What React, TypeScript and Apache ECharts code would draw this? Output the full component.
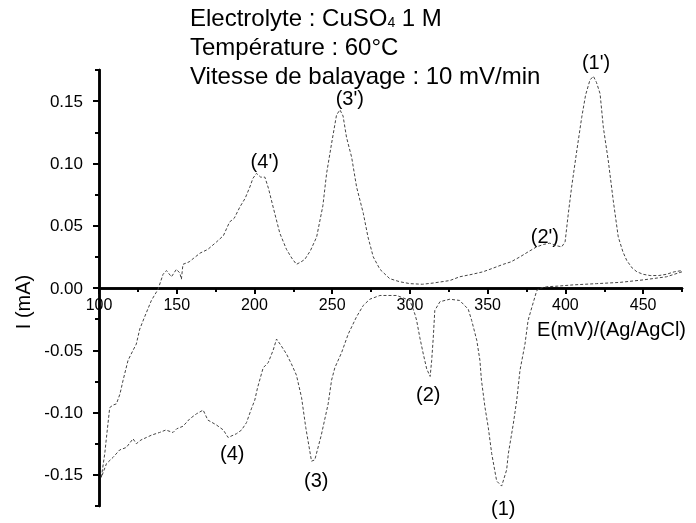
import React, { useEffect, useRef } from "react";
import * as echarts from "echarts";

// Forward (anodic) scan: potential E (mV vs Ag/AgCl) and current I (mA)
const anodicE = [101.5, 103.7, 104.8, 106.9, 109, 111.2, 113.5, 115.5, 118.7, 121.9, 124, 126.2, 129.4, 133.7, 138, 141.2, 143.4, 146.6, 149.8, 152, 153, 154, 158, 161, 165, 170, 175.6, 180, 184, 187, 190.6, 194, 197, 199, 201.3, 204, 206.7, 209, 212, 216.3, 220.6, 224, 227, 230, 232.4, 236, 240, 244, 246.4, 249.6, 252.8, 255, 257, 259.2, 262.5, 265.7, 270, 273, 276.4, 280.7, 287, 293.5, 300, 308, 315, 325.7, 332, 340, 347, 353.6, 360, 365, 370.8, 376, 381.5, 386, 390, 394, 397.6, 399.8, 401.9, 404, 407.3, 410.5, 413, 415.8, 418, 420, 422.3, 424.4, 427.6, 430.8, 434, 437, 439.5, 443, 446, 450, 454.5, 460, 465, 470, 475];
const anodicI = [-0.152, -0.133, -0.12, -0.096, -0.094, -0.093, -0.085, -0.074, -0.058, -0.05, -0.045, -0.033, -0.023, -0.01, -0.001, 0.011, 0.014, 0.009, 0.015, 0.012, 0.007, 0.019, 0.021, 0.024, 0.028, 0.031, 0.037, 0.042, 0.053, 0.056, 0.065, 0.072, 0.081, 0.088, 0.092, 0.089, 0.089, 0.08, 0.065, 0.044, 0.031, 0.024, 0.019, 0.021, 0.023, 0.03, 0.041, 0.066, 0.092, 0.116, 0.139, 0.143, 0.138, 0.121, 0.105, 0.081, 0.06, 0.041, 0.025, 0.015, 0.0075, 0.005, 0.0035, 0.003, 0.004, 0.006, 0.009, 0.011, 0.013, 0.016, 0.019, 0.021, 0.025, 0.029, 0.033, 0.035, 0.036, 0.034, 0.033, 0.037, 0.06, 0.081, 0.11, 0.137, 0.155, 0.167, 0.17, 0.165, 0.156, 0.129, 0.102, 0.07, 0.041, 0.029, 0.022, 0.016, 0.013, 0.011, 0.01, 0.01, 0.011, 0.013, 0.014];

// Reverse (cathodic) scan
const cathodicE = [475, 465, 450, 435, 420, 405, 395, 388, 384, 381.6, 378.3, 376, 374, 370.8, 368.7, 366.5, 363.3, 362.2, 359, 355.8, 352.6, 350.4, 348.3, 346, 345, 343, 339.7, 337.5, 332, 325.7, 319.3, 316, 315, 314, 313, 310.8, 308.6, 306.4, 304.3, 303.2, 300, 291.4, 280.7, 274.2, 270, 265.7, 260.3, 256, 251.7, 249.6, 247.4, 243, 238.8, 236.7, 233, 230.3, 227, 223.8, 220.6, 217, 214.2, 212, 208.8, 205.6, 202, 200.2, 198, 194.9, 191.7, 188.4, 183, 180, 175.6, 170, 167, 162.7, 158.4, 154, 150, 147.6, 143, 138.9, 134, 130.5, 127, 124, 121.9, 117.6, 113.3, 109, 104.8, 101.5];
const cathodicI = [0.013, 0.009, 0.0065, 0.0045, 0.0035, 0.0025, 0.0015, 0.001, 0, -0.002, -0.016, -0.026, -0.045, -0.066, -0.09, -0.109, -0.133, -0.146, -0.159, -0.155, -0.133, -0.112, -0.096, -0.074, -0.058, -0.042, -0.026, -0.017, -0.01, -0.009, -0.011, -0.018, -0.04, -0.058, -0.071, -0.065, -0.053, -0.04, -0.026, -0.021, -0.01, -0.006, -0.006, -0.009, -0.014, -0.023, -0.037, -0.052, -0.064, -0.074, -0.093, -0.118, -0.138, -0.139, -0.112, -0.088, -0.07, -0.061, -0.053, -0.046, -0.041, -0.05, -0.06, -0.064, -0.08, -0.09, -0.097, -0.108, -0.114, -0.117, -0.12, -0.114, -0.11, -0.106, -0.098, -0.101, -0.105, -0.111, -0.113, -0.116, -0.114, -0.116, -0.118, -0.12, -0.122, -0.125, -0.121, -0.128, -0.13, -0.136, -0.141, -0.152];

// Peak annotations
const peakLabels = ["(1')", "(2')", "(3')", "(4')", "(1)", "(2)", "(3)", "(4)"];
const peakE = [419.7, 386.8, 261.3, 206.6, 360, 311.8, 239.7, 185.7];
const peakI = [0.1816, 0.042, 0.1527, 0.102, -0.177, -0.085, -0.154, -0.1326];

// Ticks
const xMajorTicks = [100, 150, 200, 250, 300, 350, 400, 450];
const xMinorTicks = [125, 175, 225, 275, 325, 375, 425, 475];
const yMajorTicks = [-0.15, -0.1, -0.05, 0, 0.05, 0.1, 0.15];
const yMinorTicks = [-0.175, -0.125, -0.075, -0.025, 0.025, 0.075, 0.125, 0.175];

// Texts
const titleLines = ["Electrolyte : CuSO{sub|4} 1 M", "Température : 60°C", "Vitesse de balayage : 10 mV/min"];
const xName = "E(mV)/(Ag/AgCl)";
const yName = "I (mA)";

const FONT = '"Liberation Sans", Arial, Helvetica, sans-serif';

export default function App() {
  const ref = useRef<HTMLDivElement>(null);
  useEffect(() => {
    if (!ref.current) return;
    const chart = echarts.init(ref.current, undefined, { renderer: "svg" });
    const axisLine = { lineStyle: { color: "#000", width: 2.5 } };
    const tickStyle = { color: "#000", width: 2 };
    const curveStyle = { color: "#444", width: 1, type: [3, 2] as any };
    // grid spans y 70..506 (height 436); the x axis sits on I = 0, halfway up
    const xOffset = -218;
    const option: any = {
      animation: false,
      grid: { left: 99, right: 14, top: 70, bottom: 17, containLabel: false },
      xAxis: [
        {
          type: "value", min: 100, max: 475, position: "bottom", offset: xOffset,
          axisLine: { ...axisLine, onZero: false },
          axisTick: { show: true, customValues: xMajorTicks, length: 6, lineStyle: tickStyle },
          axisLabel: { customValues: xMajorTicks, fontSize: 16, color: "#000", fontFamily: FONT, margin: 8, formatter: (v: number) => String(v) },
          splitLine: { show: false },
        },
        {
          type: "value", min: 100, max: 475, position: "bottom", offset: xOffset,
          axisLine: { ...axisLine, onZero: false },
          axisTick: { show: true, customValues: xMinorTicks, length: 4, lineStyle: tickStyle },
          axisLabel: { show: false },
          splitLine: { show: false },
        },
      ],
      yAxis: [
        {
          type: "value", min: -0.175, max: 0.175, position: "left",
          axisLine: { ...axisLine, onZero: false },
          axisTick: { show: true, customValues: yMajorTicks, length: 6, lineStyle: tickStyle },
          axisLabel: { customValues: yMajorTicks, fontSize: 17, color: "#000", fontFamily: FONT, margin: 16, formatter: (v: number) => v.toFixed(2) },
          splitLine: { show: false },
        },
        {
          type: "value", min: -0.175, max: 0.175, position: "left",
          axisLine: { ...axisLine, onZero: false },
          axisTick: { show: true, customValues: yMinorTicks, length: 4, lineStyle: tickStyle },
          axisLabel: { show: false },
          splitLine: { show: false },
        },
      ],
      series: [
        {
          type: "line", name: "forward", xAxisIndex: 0, yAxisIndex: 0,
          data: anodicE.map((e, i) => [e, anodicI[i]]),
          showSymbol: false, symbol: "none", lineStyle: curveStyle, silent: true, clip: false,
        },
        {
          type: "line", name: "reverse", xAxisIndex: 0, yAxisIndex: 0,
          data: cathodicE.map((e, i) => [e, cathodicI[i]]),
          showSymbol: false, symbol: "none", lineStyle: curveStyle, silent: true, clip: false,
        },
        {
          type: "scatter", name: "peaks", xAxisIndex: 0, yAxisIndex: 0, clip: false, silent: true,
          symbolSize: 0, itemStyle: { color: "#000", opacity: 1 },
          data: peakLabels.map((n, i) => ({ name: n, value: [peakE[i], peakI[i]] })),
          label: {
            show: true, position: "inside", formatter: (p: any) => p.name,
            fontSize: 20, color: "#000", textBorderWidth: 0, fontFamily: FONT, align: "center", verticalAlign: "middle",
          },
        },
      ],
      graphic: [
        ...titleLines.map((t, i) => ({
          type: "text", x: 190, y: 17 + i * 29,
          style: {
            text: t, fill: "#000", fontSize: 24, fontFamily: FONT, align: "left", verticalAlign: "middle",
            rich: { sub: { fontSize: 14, fontFamily: FONT, verticalAlign: "bottom", lineHeight: 8, fill: "#000" } },
          },
        })),
        {
          type: "text", x: 686, y: 329,
          style: { text: xName, fill: "#000", fontSize: 20, fontFamily: FONT, align: "right", verticalAlign: "middle" },
        },
        {
          type: "text", x: 23, y: 302, rotation: Math.PI / 2,
          style: { text: yName, fill: "#000", fontSize: 20, fontFamily: FONT, align: "center", verticalAlign: "middle" },
        },
      ],
    };
    chart.setOption(option);
    return () => chart.dispose();
  }, []);
  return <div ref={ref} style={{ position: "fixed", left: 0, top: 0, width: 696, height: 523 }} />;
}
